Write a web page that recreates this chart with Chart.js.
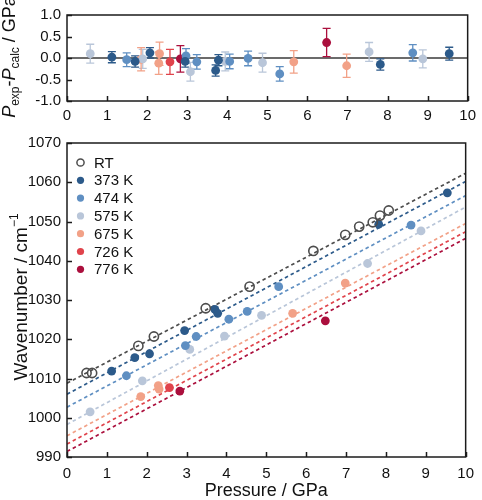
<!DOCTYPE html>
<html>
<head>
<meta charset="utf-8">
<script src="https://cdn.jsdelivr.net/npm/chart.js@4.4.0/dist/chart.umd.min.js"></script>
<style>
  body { margin: 0; background: #fff; }
  #wrap { position: relative; width: 482px; height: 500px; }
  canvas { position: absolute; left: 0; }
</style>
</head>
<body>
<div id="wrap">
  <canvas id="resid" width="482" height="125" style="top:0"></canvas>
  <canvas id="wave" width="482" height="375" style="top:125px"></canvas>
</div>
<script>
// series, in legend order
const seriesLabels = ["RT", "373 K", "474 K", "575 K", "675 K", "726 K", "776 K"];
const seriesColors = ["#4d4d4d", "#2c5a8a", "#5f8fc2", "#b9c6d9", "#f2a187", "#e0434b", "#ab0f3d"];

// pressure (GPa) and wavenumber (cm-1) per series
const pRT = [0.49, 0.63, 1.79, 2.18, 3.48, 4.58, 6.18, 6.98, 7.33, 7.67, 7.85, 8.07];
const wRT = [1011.4, 1011.4, 1018.3, 1020.7, 1027.9, 1033.4, 1042.5, 1046.6, 1048.7, 1049.8, 1051.5, 1052.8];

const p373 = [1.12, 1.70, 2.07, 2.95, 3.71, 3.78, 7.82, 9.54];
const w373 = [1011.9, 1015.3, 1016.3, 1022.2, 1027.6, 1026.6, 1049.3, 1057.3];
const r373 = [0.02, -0.08, 0.12, -0.08, -0.29, -0.05, -0.15, 0.10];
const e373 = [0.13, 0.13, 0.12, 0.13, 0.13, 0.13, 0.13, 0.15];

const p474 = [1.49, 2.97, 3.24, 4.06, 4.52, 5.31, 8.63];
const w474 = [1010.7, 1018.4, 1020.7, 1025.1, 1027.1, 1033.4, 1049.1];
const r474 = [-0.04, 0.05, -0.09, -0.08, -0.01, -0.37, 0.12];
const e474 = [0.16, 0.17, 0.17, 0.17, 0.17, 0.17, 0.19];

const p575 = [0.58, 1.89, 3.08, 3.95, 4.88, 7.54, 8.88];
const w575 = [1001.5, 1009.4, 1017.4, 1020.8, 1026.1, 1039.3, 1047.6];
const r575 = [0.10, -0.02, -0.32, -0.08, -0.11, 0.14, -0.02];
const e575 = [0.22, 0.22, 0.22, 0.22, 0.22, 0.22, 0.21];

const p675 = [1.85, 2.29, 2.31, 5.66, 6.98];
const w675 = [1005.4, 1008.2, 1007.3, 1026.6, 1034.3];
const r675 = [-0.03, -0.12, 0.10, -0.09, -0.18];
const e675 = [0.27, 0.26, 0.27, 0.26, 0.27];

const p726 = [2.57];
const w726 = [1007.7];
const r726 = [-0.09];
const e726 = [0.29];

const p776 = [2.83, 6.48];
const w776 = [1006.8, 1024.7];
const r776 = [-0.02, 0.36];
const e776 = [0.31, 0.33];

// linear fits, value at 0 GPa and at 10 GPa
const fitAt0 = [1008.8, 1006.0, 1002.7, 998.3, 995.4, 993.3, 991.4];
const fitAt10 = [1062.3, 1060.2, 1056.6, 1053.7, 1049.5, 1047.4, 1045.7];

// ticks
const pressureTicks = [0, 1, 2, 3, 4, 5, 6, 7, 8, 9, 10];
const residTicks = [-1.0, -0.5, 0.0, 0.5, 1.0];
const waveTicks = [990, 1000, 1010, 1020, 1030, 1040, 1050, 1060, 1070];

const pList = [pRT, p373, p474, p575, p675, p726, p776];
const wList = [wRT, w373, w474, w575, w675, w726, w776];
const rList = [null, r373, r474, r575, r675, r726, r776];
const eList = [null, e373, e474, e575, e675, e726, e776];

const FONT = "'Liberation Sans', Arial, sans-serif";
Chart.defaults.font.family = FONT;
Chart.defaults.font.size = 15;
Chart.defaults.color = "#111";

const toXY = (xs, ys) => xs.map((x, i) => ({ x: x, y: ys[i] }));

function useTicks(list) {
  return (scale) => { scale.ticks = list.map((v) => ({ value: v })); };
}

// frame round the plot and inward tick marks
const framePlugin = {
  id: "frame",
  afterDraw(chart) {
    const { ctx, chartArea: a, scales } = chart;
    ctx.save();
    ctx.strokeStyle = "#1b1b1b";
    ctx.lineWidth = 1.5;
    ctx.beginPath();
    scales.x.ticks.forEach((t) => {
      const px = Math.round(scales.x.getPixelForValue(t.value)) + 0.5;
      ctx.moveTo(px, a.bottom);
      ctx.lineTo(px, a.bottom - 5);
    });
    scales.y.ticks.forEach((t) => {
      const py = Math.round(scales.y.getPixelForValue(t.value)) + 0.5;
      ctx.moveTo(a.left, py);
      ctx.lineTo(a.left + 5, py);
    });
    ctx.stroke();
    ctx.strokeRect(a.left, a.top, a.width, a.height);
    ctx.restore();
  },
};

// zero line and error bars for the residual plot
const errorPlugin = {
  id: "errors",
  beforeDatasetsDraw(chart) {
    const { ctx, chartArea: a, scales: { y } } = chart;
    ctx.save();
    ctx.strokeStyle = "#6b6b6b";
    ctx.lineWidth = 2;
    const y0 = y.getPixelForValue(0);
    ctx.beginPath();
    ctx.moveTo(a.left, y0);
    ctx.lineTo(a.right, y0);
    ctx.stroke();
    chart.data.datasets.forEach((ds, di) => {
      const meta = chart.getDatasetMeta(di);
      ctx.strokeStyle = ds.backgroundColor;
      ctx.lineWidth = 1.3;
      ds.errs.forEach((err, i) => {
        const px = meta.data[i].x;
        const v = ds.data[i].y;
        const yt = y.getPixelForValue(v + err);
        const yb = y.getPixelForValue(v - err);
        ctx.beginPath();
        ctx.moveTo(px, yt);
        ctx.lineTo(px, yb);
        ctx.moveTo(px - 4, yt);
        ctx.lineTo(px + 4, yt);
        ctx.moveTo(px - 4, yb);
        ctx.lineTo(px + 4, yb);
        ctx.stroke();
      });
    });
    ctx.restore();
  },
};

// axis titles (drawn by hand for the sub- and superscripts)
const titlePlugin = {
  id: "titles",
  afterDraw(chart, args, opts) {
    const ctx = chart.ctx;
    ctx.save();
    ctx.fillStyle = "#111";
    ctx.textBaseline = "alphabetic";
    if (opts.kind === "resid") {
      ctx.translate(opts.x, opts.y);
      ctx.rotate(-Math.PI / 2);
      const parts = [
        ["italic 18px " + FONT, "P", 0],
        ["12px " + FONT, "exp", 4],
        ["18px " + FONT, "-", 0],
        ["italic 18px " + FONT, "P", 0],
        ["12px " + FONT, "calc", 4],
        ["18px " + FONT, " / GPa", 0],
      ];
      let w = 0;
      parts.forEach((p) => { ctx.font = p[0]; w += ctx.measureText(p[1]).width; });
      let cx = -w / 2;
      parts.forEach((p) => {
        ctx.font = p[0];
        ctx.fillText(p[1], cx, 6 + p[2]);
        cx += ctx.measureText(p[1]).width;
      });
    } else {
      const a = chart.chartArea;
      ctx.font = "18px " + FONT;
      ctx.textAlign = "center";
      ctx.fillText("Pressure / GPa", (a.left + a.right) / 2, opts.xTitleY);
      ctx.translate(opts.x, opts.y);
      ctx.rotate(-Math.PI / 2);
      ctx.textAlign = "left";
      const main = "Wavenumber / cm";
      ctx.font = "12px " + FONT;
      const supW = ctx.measureText("\u22121").width;
      ctx.font = "19px " + FONT;
      const mw = ctx.measureText(main).width;
      const sx = -(mw + supW) / 2;
      ctx.fillText(main, sx, 6);
      ctx.font = "12px " + FONT;
      ctx.fillText("\u22121", sx + mw, -3);
    }
    ctx.restore();
  },
};

// legend inside the wavenumber plot
const legendPlugin = {
  id: "innerLegend",
  afterDraw(chart) {
    const ctx = chart.ctx;
    const a = chart.chartArea;
    ctx.save();
    ctx.font = "15px " + FONT;
    ctx.textBaseline = "middle";
    seriesLabels.forEach((lab, i) => {
      const cy = a.top + 19.5 + i * 17.8;
      const cx = a.left + 13.5;
      ctx.beginPath();
      ctx.arc(cx, cy, 3.6, 0, Math.PI * 2);
      if (i === 0) {
        ctx.strokeStyle = seriesColors[0];
        ctx.lineWidth = 1.5;
        ctx.stroke();
      } else {
        ctx.fillStyle = seriesColors[i];
        ctx.fill();
      }
      ctx.fillStyle = "#111";
      ctx.fillText(lab, a.left + 27, cy + 1);
    });
    ctx.restore();
  },
};

function xScale(height, pad) {
  return {
    type: "linear", min: 0, max: 10,
    afterBuildTicks: useTicks(pressureTicks),
    afterFit: (s) => { s.height = height; },
    grid: { display: false, drawTicks: false },
    border: { display: false },
    ticks: { padding: pad, maxRotation: 0, font: { size: 15 }, callback: (v) => String(v) },
  };
}

// residual plot
const residSets = [];
for (let i = 1; i < seriesLabels.length; i++) {
  residSets.push({
    label: seriesLabels[i],
    data: toXY(pList[i], rList[i]),
    errs: eList[i],
    backgroundColor: seriesColors[i],
    borderWidth: 0,
    pointRadius: 4.4,
  });
}

new Chart(document.getElementById("resid"), {
  type: "scatter",
  data: { datasets: residSets },
  options: {
    responsive: false, animation: false, devicePixelRatio: 1,
    layout: { padding: { top: 13, right: 12, left: 0, bottom: 0 } },
    plugins: { legend: { display: false }, tooltip: { enabled: false },
      titles: { kind: "resid", x: 9, y: 57 } },
    scales: {
      x: xScale(24, 6),
      y: {
        type: "linear", min: -1, max: 1,
        afterBuildTicks: useTicks(residTicks),
        afterFit: (s) => { s.width = 67; },
        grid: { display: false, drawTicks: false },
        border: { display: false },
        ticks: { padding: 6, callback: (v) => v.toFixed(1), font: { size: 15 } },
      },
    },
  },
  plugins: [errorPlugin, framePlugin, titlePlugin],
});

// wavenumber plot
const waveSets = [];
for (let i = 0; i < seriesLabels.length; i++) {
  waveSets.push({
    label: seriesLabels[i] + " fit",
    data: [{ x: 0, y: fitAt0[i] }, { x: 10, y: fitAt10[i] }],
    showLine: true,
    borderColor: seriesColors[i],
    borderWidth: 1.7,
    borderDash: [3.5, 3],
    pointRadius: 0,
    order: 2,
  });
}
for (let i = 0; i < seriesLabels.length; i++) {
  const open = i === 0;
  waveSets.push({
    label: seriesLabels[i],
    data: toXY(pList[i], wList[i]),
    backgroundColor: open ? "rgba(255,255,255,0)" : seriesColors[i],
    borderColor: seriesColors[i],
    borderWidth: open ? 1.6 : 0,
    pointRadius: open ? 4.6 : 4.4,
    order: 1,
  });
}

new Chart(document.getElementById("wave"), {
  type: "scatter",
  data: { datasets: waveSets },
  options: {
    responsive: false, animation: false, devicePixelRatio: 1,
    layout: { padding: { top: 18, right: 12, left: 0, bottom: 0 } },
    plugins: { legend: { display: false }, tooltip: { enabled: false },
      titles: { kind: "wave", x: 21, y: 172, xTitleY: 371 } },
    scales: {
      x: xScale(43, 8),
      y: {
        type: "linear", min: 990, max: 1070,
        afterBuildTicks: useTicks(waveTicks),
        afterFit: (s) => { s.width = 67; },
        grid: { display: false, drawTicks: false },
        border: { display: false },
        ticks: { padding: 6, font: { size: 15 }, callback: (v) => String(v) },
      },
    },
  },
  plugins: [framePlugin, titlePlugin, legendPlugin],
});
</script>
</body>
</html>
